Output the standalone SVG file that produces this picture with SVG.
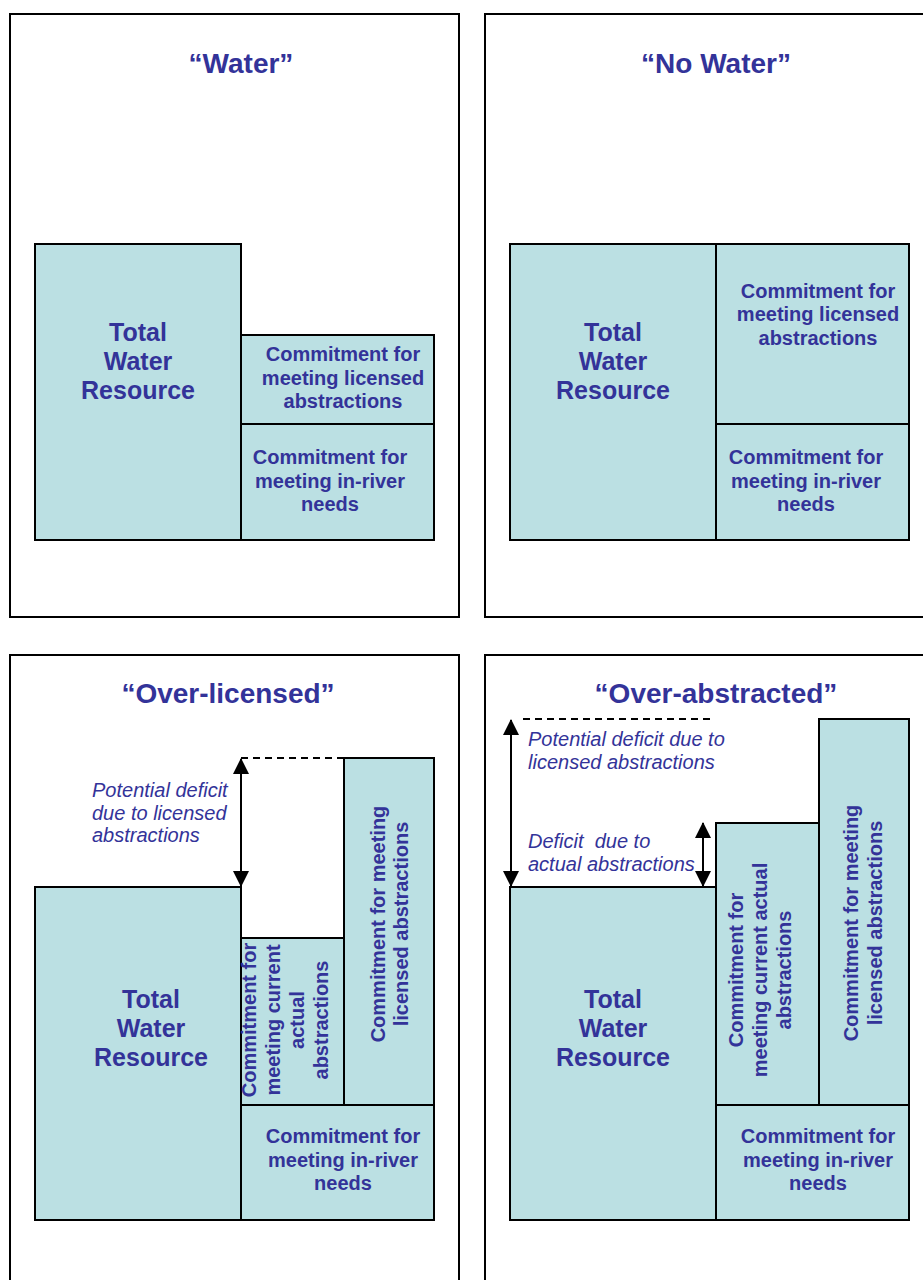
<svg xmlns="http://www.w3.org/2000/svg" width="923" height="1280" viewBox="0 0 923 1280">
<style>
.frame{fill:none;stroke:#000;stroke-width:2}
.box{fill:#BBE0E3;stroke:#000;stroke-width:2}
.title{font-family:"Liberation Sans",Arial,sans-serif;font-weight:bold;font-size:28px;fill:#333399;text-anchor:middle}
.big{font-family:"Liberation Sans",Arial,sans-serif;font-weight:bold;font-size:25px;fill:#333399;text-anchor:middle}
.lbl{font-family:"Liberation Sans",Arial,sans-serif;font-weight:bold;font-size:20px;fill:#333399;text-anchor:middle}
.it{font-family:"Liberation Sans",Arial,sans-serif;font-style:italic;font-size:20px;fill:#333399}
.dash{stroke:#000;stroke-width:2;stroke-dasharray:7 5;fill:none}
.arr{stroke:#000;stroke-width:2;fill:none;marker-start:url(#ah);marker-end:url(#ah)}
</style>
<defs>
<marker id="ah" viewBox="0 0 16 16" markerWidth="16" markerHeight="16" markerUnits="userSpaceOnUse" refX="15" refY="8" orient="auto-start-reverse">
<path d="M0,0 L16,8 L0,16 z" fill="#000"/>
</marker>
</defs>
<rect width="923" height="1280" fill="#fff"/>

<!-- Panel 1: Water -->
<g id="panel-water">
<rect class="frame" x="10" y="14" width="449" height="603"/>
<text class="title" x="241" y="73">“Water”</text>
</g>
<g id="w-total">
<rect class="box" x="35" y="244" width="206" height="296"/>
<text class="big" x="138" y="341">Total</text>
<text class="big" x="138" y="370">Water</text>
<text class="big" x="138" y="399">Resource</text>
</g>
<g id="w-licensed">
<rect class="box" x="241" y="335" width="193" height="89"/>
<text class="lbl" x="343" y="361">Commitment for</text>
<text class="lbl" x="343" y="385">meeting licensed</text>
<text class="lbl" x="343" y="408">abstractions</text>
</g>
<g id="w-inriver">
<rect class="box" x="241" y="424" width="193" height="116"/>
<text class="lbl" x="330" y="464">Commitment for</text>
<text class="lbl" x="330" y="488">meeting in-river</text>
<text class="lbl" x="330" y="511">needs</text>
</g>

<!-- Panel 2: No Water -->
<g id="panel-nowater">
<rect class="frame" x="485" y="14" width="460" height="603"/>
<text class="title" x="716" y="73">“No Water”</text>
</g>
<g id="nw-total">
<rect class="box" x="510" y="244" width="206" height="296"/>
<text class="big" x="613" y="341">Total</text>
<text class="big" x="613" y="370">Water</text>
<text class="big" x="613" y="399">Resource</text>
</g>
<g id="nw-licensed">
<rect class="box" x="716" y="244" width="193" height="180"/>
<text class="lbl" x="818" y="298">Commitment for</text>
<text class="lbl" x="818" y="321">meeting licensed</text>
<text class="lbl" x="818" y="345">abstractions</text>
</g>
<g id="nw-inriver">
<rect class="box" x="716" y="424" width="193" height="116"/>
<text class="lbl" x="806" y="464">Commitment for</text>
<text class="lbl" x="806" y="488">meeting in-river</text>
<text class="lbl" x="806" y="511">needs</text>
</g>

<!-- Panel 3: Over-licensed -->
<g id="panel-overlicensed">
<rect class="frame" x="10" y="655" width="449" height="640"/>
<text class="title" x="228" y="703">“Over-licensed”</text>
</g>
<g id="ol-total">
<rect class="box" x="35" y="887" width="206" height="333"/>
<text class="big" x="151" y="1008">Total</text>
<text class="big" x="151" y="1037">Water</text>
<text class="big" x="151" y="1066">Resource</text>
</g>
<g id="ol-licensed">
<rect class="box" x="344" y="758" width="90" height="347"/>
<g transform="translate(0,924) rotate(-90)">
<text class="lbl" x="0" y="385">Commitment for meeting</text>
<text class="lbl" x="0" y="408">licensed abstractions</text>
</g>
</g>
<g id="ol-actual">
<rect class="box" x="241" y="938" width="103" height="167"/>
<g transform="translate(0,1020) rotate(-90)">
<text class="lbl" x="0" y="256">Commitment for</text>
<text class="lbl" x="0" y="280">meeting current</text>
<text class="lbl" x="0" y="304">actual</text>
<text class="lbl" x="0" y="328">abstractions</text>
</g>
</g>
<g id="ol-inriver">
<rect class="box" x="241" y="1105" width="193" height="115"/>
<text class="lbl" x="343" y="1143">Commitment for</text>
<text class="lbl" x="343" y="1167">meeting in-river</text>
<text class="lbl" x="343" y="1190">needs</text>
</g>
<g id="ol-deficit-label">
<text class="it" x="92" y="797">Potential deficit</text>
<text class="it" x="92" y="820">due to licensed</text>
<text class="it" x="92" y="842">abstractions</text>
</g>

<!-- Panel 4: Over-abstracted -->
<g id="panel-overabstracted">
<rect class="frame" x="485" y="655" width="460" height="640"/>
<text class="title" x="716" y="703">“Over-abstracted”</text>
</g>
<g id="oa-total">
<rect class="box" x="510" y="887" width="206" height="333"/>
<text class="big" x="613" y="1008">Total</text>
<text class="big" x="613" y="1037">Water</text>
<text class="big" x="613" y="1066">Resource</text>
</g>
<g id="oa-licensed">
<rect class="box" x="819" y="719" width="90" height="386"/>
<g transform="translate(0,923) rotate(-90)">
<text class="lbl" x="0" y="858">Commitment for meeting</text>
<text class="lbl" x="0" y="882">licensed abstractions</text>
</g>
</g>
<g id="oa-actual">
<rect class="box" x="716" y="823" width="103" height="282"/>
<g transform="translate(0,970) rotate(-90)">
<text class="lbl" x="0" y="743">Commitment for</text>
<text class="lbl" x="0" y="767">meeting current actual</text>
<text class="lbl" x="0" y="791">abstractions</text>
</g>
</g>
<g id="oa-inriver">
<rect class="box" x="716" y="1105" width="193" height="115"/>
<text class="lbl" x="818" y="1143">Commitment for</text>
<text class="lbl" x="818" y="1167">meeting in-river</text>
<text class="lbl" x="818" y="1190">needs</text>
</g>
<g id="oa-labels">
<text class="it" x="528" y="746">Potential deficit due to</text>
<text class="it" x="528" y="769">licensed abstractions</text>
<text class="it" x="528" y="848" xml:space="preserve">Deficit  due to</text>
<text class="it" x="528" y="871">actual abstractions</text>
</g>

<!-- Connectors -->
<g id="connectors">
<line class="dash" x1="241" y1="758" x2="344" y2="758"/>
<line class="arr" x1="241" y1="759" x2="241" y2="886"/>
<line class="dash" x1="523" y1="719" x2="713" y2="719"/>
<line class="arr" x1="511" y1="720" x2="511" y2="886"/>
<line class="arr" x1="703" y1="823" x2="703" y2="886"/>
</g>
</svg>
